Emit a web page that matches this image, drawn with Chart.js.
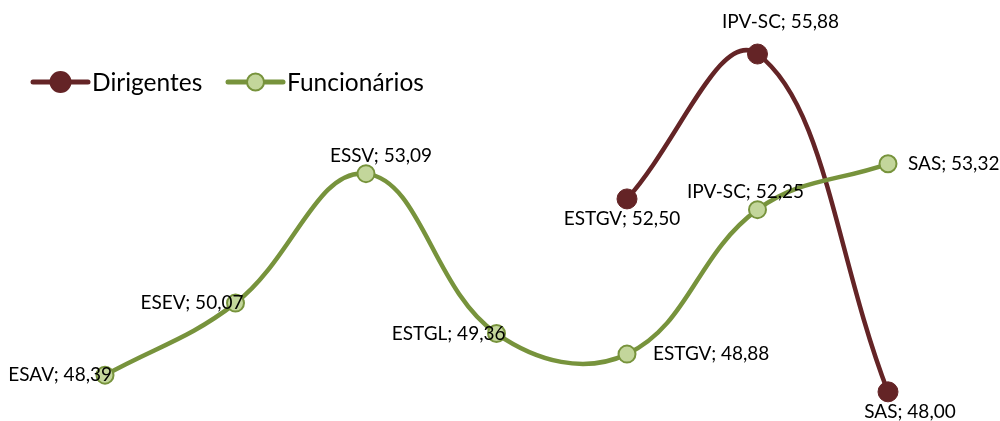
<!DOCTYPE html>
<html>
<head>
<meta charset="utf-8">
<script src="https://cdn.jsdelivr.net/npm/chart.js@4"></script>
<style>
  html, body { margin: 0; padding: 0; background: #fff; }
  #wrap { width: 1000px; height: 421px; position: relative; }
</style>
</head>
<body>
<div id="wrap"><canvas id="chart"></canvas></div>
<script>
// categories and values
const categories = ["ESAV", "ESEV", "ESSV", "ESTGL", "ESTGV", "IPV-SC", "SAS"];
const dirigentes = [null, null, null, null, 52.50, 55.88, 48.00];
const funcionarios = [48.39, 50.07, 53.09, 49.36, 48.88, 52.25, 53.32];
const seriesNames = ["Dirigentes", "Funcionários"];

const maroon = "#642426";
const green = "#77933C";
const lightGreen = "#C3D69B";
const labelFont = "19px Lato";

// label placement per dataset: [dx, dy, textAlign]
const labelPlacement = [
  [null, null, null, null, [-5, 20, "center"], [23, -32, "center"], [22, 20, "center"]],
  [[7, 0, "right"], [8, 0, "right"], [15, -18, "center"], [9, 0, "right"],
   [26, 0, "left"], [-12, -18, "center"], [20, 0, "left"]]
];

const fmt = v => v.toFixed(2).replace(".", ",");

// "CAT; value" labels next to each point
const pointLabels = {
  id: "pointLabels",
  afterDatasetsDraw(chart) {
    const ctx = chart.ctx;
    ctx.save();
    ctx.font = labelFont;
    ctx.fillStyle = "#000";
    ctx.textBaseline = "middle";
    chart.data.datasets.forEach((ds, di) => {
      const meta = chart.getDatasetMeta(di);
      meta.data.forEach((pt, i) => {
        const v = ds.data[i];
        const place = labelPlacement[di][i];
        if (v == null || !place) return;
        ctx.textAlign = place[2];
        ctx.fillText(categories[i] + "; " + fmt(v), pt.x + place[0], pt.y + place[1]);
      });
    });
    ctx.restore();
  }
};

// legend drawn inside the plot, top left
const lineLegend = {
  id: "lineLegend",
  afterDraw(chart) {
    const ctx = chart.ctx;
    const items = [
      { x: 33, text: seriesNames[0], line: maroon, fill: maroon, border: maroon, r: 10 },
      { x: 228, text: seriesNames[1], line: green, fill: lightGreen, border: green, r: 8.5 }
    ];
    const y = 82;
    ctx.save();
    items.forEach(it => {
      ctx.strokeStyle = it.line;
      ctx.lineWidth = 5;
      ctx.lineCap = "round";
      ctx.beginPath();
      ctx.moveTo(it.x, y);
      ctx.lineTo(it.x + 55, y);
      ctx.stroke();
      ctx.beginPath();
      ctx.arc(it.x + 27.5, y, it.r, 0, Math.PI * 2);
      ctx.fillStyle = it.fill;
      ctx.fill();
      ctx.lineWidth = 2;
      ctx.strokeStyle = it.border;
      ctx.stroke();
      ctx.font = "24.5px Lato";
      ctx.fillStyle = "#000";
      ctx.textAlign = "left";
      ctx.textBaseline = "middle";
      ctx.fillText(it.text, it.x + 59, y + 1);
    });
    ctx.restore();
  }
};

new Chart(document.getElementById("chart"), {
  type: "line",
  data: {
    labels: categories,
    datasets: [
      {
        label: seriesNames[0],
        data: dirigentes,
        borderColor: maroon,
        borderWidth: 4.5,
        tension: 0.4,
        pointRadius: 10,
        pointBackgroundColor: maroon,
        pointBorderColor: maroon,
        pointBorderWidth: 1,
        order: 2
      },
      {
        label: seriesNames[1],
        data: funcionarios,
        borderColor: green,
        borderWidth: 4.5,
        tension: 0.4,
        pointRadius: 8.5,
        pointBackgroundColor: lightGreen,
        pointBorderColor: green,
        pointBorderWidth: 2,
        order: 1
      }
    ]
  },
  options: {
    responsive: true,
    maintainAspectRatio: false,
    animation: false,
    layout: { autoPadding: false, padding: { left: 105, right: 112, top: 0, bottom: 0 } },
    plugins: {
      legend: { display: false },
      tooltip: { enabled: false }
    },
    scales: {
      x: { display: false, offset: false },
      y: { display: false, min: 47.32, max: 57.14 }
    },
    datasets: { line: { clip: false } }
  },
  plugins: [pointLabels, lineLegend]
});
</script>
</body>
</html>
